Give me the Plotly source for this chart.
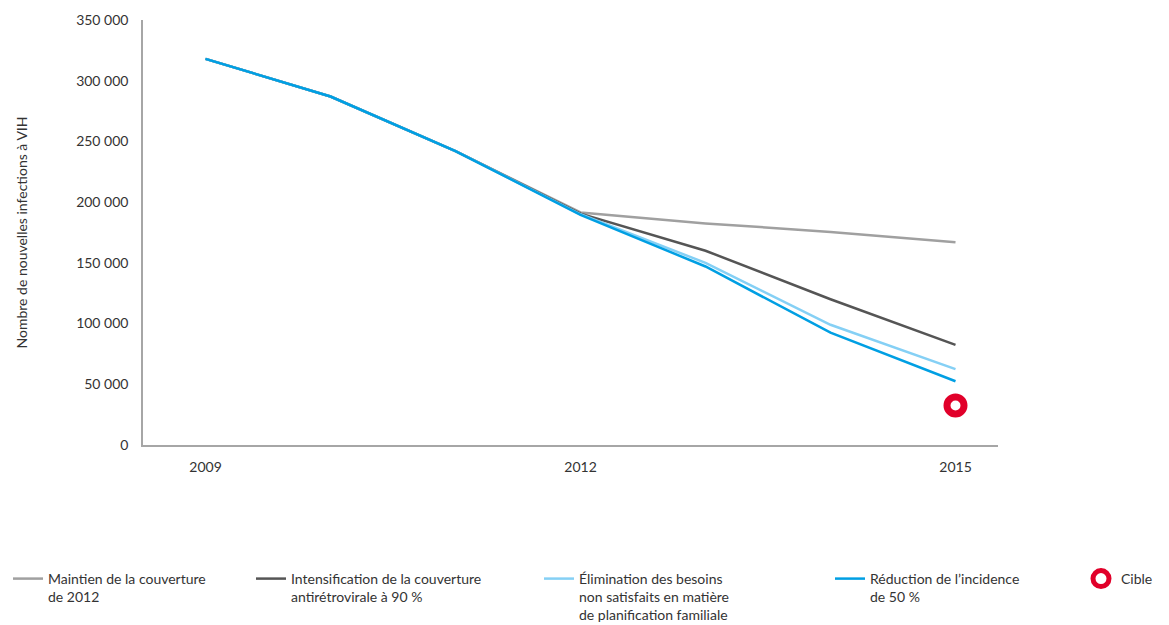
import plotly.graph_objects as go

years = [2009, 2010, 2011, 2012, 2013, 2014, 2015]

maintien = [318000, 287000, 242000, 191500, 182500, 175500, 167000]
intensification = [318000, 287000, 242000, 190500, 160000, 120000, 82500]
elimination = [318000, 287000, 242000, 190000, 150000, 99000, 62500]
reduction = [318000, 287000, 242000, 189500, 147000, 92500, 52500]

cible_year = [2015]
cible_value = [32500]

noms = [
    'Maintien de la couverture<br>de 2012',
    'Intensification de la couverture<br>antirétrovirale à 90 %',
    'Élimination des besoins<br>non satisfaits en matière<br>de planification familiale',
    'Réduction de l’incidence<br>de 50 %',
]
couleurs = ['#a0a0a0', '#555555', '#85d0f5', '#009fe3']
legendes = ['legend', 'legend2', 'legend3', 'legend4']

W, H = 1169, 625

fig = go.Figure()

for nom, serie, couleur, leg in zip(noms, [maintien, intensification, elimination, reduction], couleurs, legendes):
    fig.add_trace(go.Scatter(
        x=years, y=serie, name=nom, mode='lines',
        line=dict(color=couleur, width=2.5), legend=leg,
    ))

fig.add_trace(go.Scatter(
    x=cible_year, y=cible_value, name='Cible', mode='markers',
    marker=dict(symbol='circle', size=17, color='white',
                line=dict(color='#e1002a', width=7)),
    legend='legend5',
))


def legende(xpx):
    # one legend per entry so each one sits where the reference puts it
    return dict(
        orientation='h', x=xpx / W, xref='container', y=0.112, yref='container',
        xanchor='left', yanchor='top', valign='top',
        font=dict(size=14, color='#333333'), itemwidth=30,
        bgcolor='rgba(0,0,0,0)',
    )


# the page body adds 8px around the plot, so margins are pulled in by 8px
fig.update_layout(
    width=W, height=H,
    paper_bgcolor='white', plot_bgcolor='white',
    font=dict(family='Lato, Noto Sans, sans-serif', size=14, color='#333333'),
    separators=', ',
    margin=dict(l=135, r=179, t=12, b=188, pad=0, autoexpand=False),
    showlegend=True,
    legend=legende(-24),
    legend2=legende(243),
    legend3=legende(531),
    legend4=legende(822),
    legend5=legende(1073),
    xaxis=dict(
        range=[2008.5, 2015.34],
        tickvals=[2009, 2012, 2015], ticktext=['2009', '2012', '2015'],
        showgrid=False, zeroline=False,
        showline=True, linecolor='#a6a6a6', linewidth=1.5,
        ticks='', ticklabelstandoff=8,
        tickfont=dict(size=14),
    ),
    yaxis=dict(
        range=[0, 350000], dtick=50000, tickformat=',d',
        showgrid=False, zeroline=False,
        showline=True, linecolor='#a6a6a6', linewidth=1.5,
        ticks='', ticklabelstandoff=10,
        tickfont=dict(size=14),
        title=dict(text='Nombre de nouvelles infections à VIH',
                   font=dict(size=14), standoff=45),
    ),
)

fig.write_html('out.html')
